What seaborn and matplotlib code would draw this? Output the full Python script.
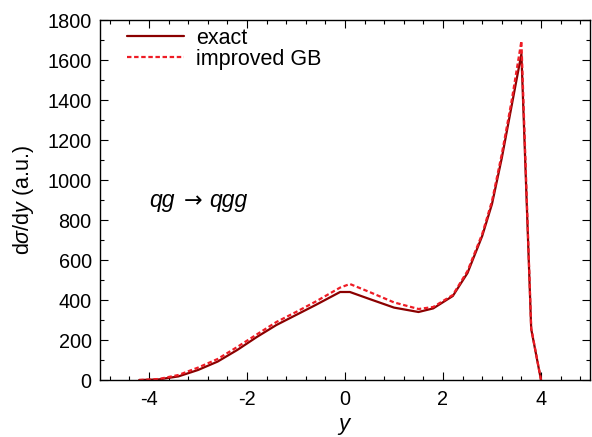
import numpy as np
import pandas as pd
import matplotlib
matplotlib.use("Agg")
import matplotlib.pyplot as plt
import seaborn as sns
from matplotlib.ticker import MultipleLocator

# ---- data ----
y_vals = [-4.2, -3.8, -3.4, -3.0, -2.6, -2.2, -1.8, -1.4, -1.0, -0.6, -0.1, 0.1,
          0.5, 1.0, 1.5, 1.8, 2.2, 2.5, 2.8, 3.0, 3.2, 3.4, 3.6, 3.8, 4.0]
exact = [0, 3, 18, 50, 92, 150, 215, 275, 325, 375, 440, 440,
         405, 362, 340, 358, 420, 535, 720, 880, 1110, 1370, 1630, 255, 0]
improved_gb = [0, 5, 25, 62, 105, 165, 228, 290, 340, 392, 462, 480,
               440, 388, 355, 365, 425, 545, 730, 895, 1130, 1395, 1695, 260, 0]
series_names = ["exact", "improved GB"]
x_ticks = [-4, -2, 0, 2, 4]
y_ticks = [0, 200, 400, 600, 800, 1000, 1200, 1400, 1600, 1800]

df = pd.DataFrame({
    "y": y_vals * 2,
    "val": exact + improved_gb,
    "series": [series_names[0]] * len(y_vals) + [series_names[1]] * len(y_vals),
})

sns.set_style("ticks")
plt.rcParams["font.family"] = ["Liberation Sans", "DejaVu Sans"]
plt.rcParams["mathtext.fontset"] = "custom"
plt.rcParams["mathtext.rm"] = "Liberation Sans"
plt.rcParams["mathtext.it"] = "Liberation Sans:italic"
plt.rcParams["mathtext.cal"] = "Liberation Sans:italic"
plt.rcParams["text.color"] = "black"
plt.rcParams["axes.labelcolor"] = "black"

fig = plt.figure(figsize=(5.92, 4.37), dpi=100)
ax = fig.add_axes([100 / 592, 57 / 437, 490 / 592, 360 / 437])

sns.lineplot(data=df, x="y", y="val", hue="series", style="series",
             palette={"exact": "#8b0000", "improved GB": "#ee1c25"},
             dashes={"exact": "", "improved GB": (2, 1.2)},
             ax=ax, legend=True, linewidth=1.6, sort=False)

ax.set_xlim(-5, 5)
ax.set_ylim(0, 1800)
ax.set_xticks(x_ticks)
ax.set_yticks(y_ticks)
ax.xaxis.set_minor_locator(MultipleLocator(0.4))
ax.yaxis.set_minor_locator(MultipleLocator(100))
ax.tick_params(which="both", direction="in", top=True, right=True,
               labelsize=14.3, colors="black", width=0.8)
ax.tick_params(which="major", length=6)
ax.tick_params(which="minor", length=3)
ax.tick_params(axis="x", which="major", pad=7)
ax.tick_params(axis="y", which="major", pad=6)
ax.set_xticklabels([str(t) for t in x_ticks])
for s in ax.spines.values():
    s.set_visible(True)
    s.set_color("black")
    s.set_linewidth(1.0)

ax.set_xlabel(r"$y$", fontsize=16, labelpad=5)
ax.set_ylabel(r"d$\sigma$/d$y$ (a.u.)", fontsize=15.5, labelpad=8)

leg = ax.legend(loc="upper left", frameon=False, fontsize=15.5,
                handlelength=2.65, handletextpad=0.55, labelspacing=0.0,
                borderpad=0, borderaxespad=0,
                bbox_to_anchor=(27 / 490, (380 - 28) / 360))
for t in leg.get_texts():
    t.set_color("black")

# process label: qg -> qgg
ax.text(-4.0, 895, "qg", fontsize=16.5, style="italic", va="center", ha="left")
ax.text(-3.30, 895, "\u2192", fontsize=16, family=["DejaVu Sans"],
        va="center", ha="left")
ax.text(-2.78, 895, "qgg", fontsize=16.5, style="italic", va="center", ha="left")

fig.savefig("out.png", dpi=100)
